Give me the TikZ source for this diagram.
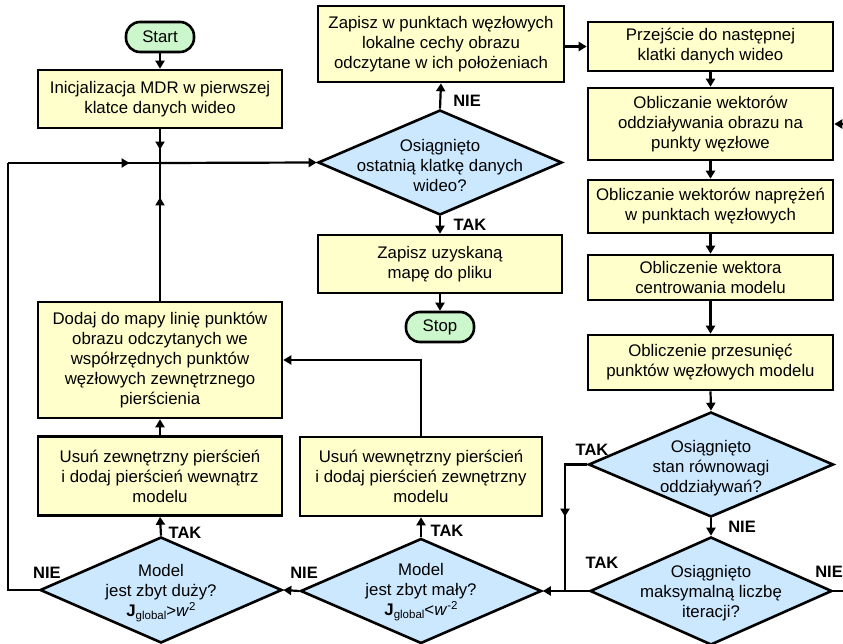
\documentclass[tikz,border=0pt]{standalone}
\usepackage{fontspec}
\setmainfont{Liberation Sans}
\usetikzlibrary{arrows.meta,decorations.markings,shapes.geometric}
\definecolor{yel}{HTML}{FFFFCC}
\definecolor{blu}{HTML}{CCE8FF}
\definecolor{grn}{HTML}{CCF7CC}
\newcommand\boxfont{\fontsize{16.8}{20}\selectfont}
\newcommand\labfont{\fontsize{16.5}{20}\selectfont\bfseries}
\newcommand\smallsub[1]{\raisebox{-0.35ex}{\fontsize{11.5}{12}\selectfont #1}}
\newcommand\smallsup[1]{\raisebox{0.65ex}{\fontsize{11.5}{12}\selectfont #1}}
\begin{document}
\begin{tikzpicture}[x=1pt,y=-1pt,
  box/.style={draw, line width=2.6pt, fill=yel, minimum width=244pt, inner sep=2pt, font=\boxfont, align=center},
  pill/.style={draw, line width=2.6pt, fill=grn, minimum width=68pt, minimum height=30pt, rounded corners=14pt, inner sep=0pt, font=\boxfont},
  dec/.style={draw, line width=2.6pt, fill=blu, shape=diamond, minimum width=244pt, minimum height=105pt, inner sep=0pt},
  dtext/.style={font=\boxfont, align=center, inner sep=0pt},
  lab/.style={font=\labfont, inner sep=0pt},
  conn/.style={line width=2.2pt},
  tip/.tip={Triangle[length=8pt,width=9pt]},
  arr/.style={conn, -tip},
  midarr/.style={postaction=decorate, decoration={markings, mark=at position #1 with {\arrow{Triangle[length=8pt,width=9pt]}}}}
]
\useasboundingbox (0,0) rectangle (843,644);
\fill[white] (0,0) rectangle (843,644);

% left column
\node[pill] (start) at (160,37) {Start};
\node[box, minimum height=58pt] (init) at (160,99) {Inicjalizacja MDR w pierwszej\\klatce danych wideo};
\node[box, minimum height=116pt] (dod) at (160,360) {Dodaj do mapy linię punktów\\obrazu odczytanych we\\współrzędnych punktów\\węzłowych zewnętrznego\\pierścienia};
\node[box, minimum height=79pt] (uz) at (160,476) {Usuń zewnętrzny pierścień\\i dodaj pierścień wewnątrz\\modelu};
\node[dec, minimum width=242pt, minimum height=106pt] (dd) at (161,590) {};
\node[dtext] (ddt) at (161,593) {Model\\jest zbyt duży?\\\textbf{J}\smallsub{global}>\textit{w}\smallsup{2}};

% middle column
\node[box, minimum width=246pt, minimum height=76pt] (zw) at (441,44) {Zapisz w punktach węzłowych\\lokalne cechy obrazu\\odczytane w ich położeniach};
\node[dec] (d1) at (440,162.5) {};
\node[dtext] (d1t) at (440,165) {Osiągnięto\\ostatnią klatkę danych\\wideo?};
\node[box, minimum height=58pt] (zu) at (440,264) {Zapisz uzyskaną\\mapę do pliku};
\node[pill] (stop) at (440,327) {Stop};
\node[box, minimum width=242pt, minimum height=79pt] (uw) at (421,476.5) {Usuń wewnętrzny pierścień\\i dodaj pierścień zewnętrzny\\modelu};
\node[dec, minimum width=241pt] (dm) at (421,591) {};
\node[dtext] (dmt) at (421,592) {Model\\jest zbyt mały?\\\textbf{J}\smallsub{global}<\textit{w}\smallsup{-2}};

% right column
\node[box, minimum width=245pt, minimum height=49pt] (prz) at (710.5,46.5) {Przejście do następnej\\klatki danych wideo};
\node[box, minimum width=245pt, minimum height=72pt] (odd) at (710.5,124) {Obliczanie wektorów\\oddziaływania obrazu na\\punkty węzłowe};
\node[box, minimum width=245pt, minimum height=53pt] (nap) at (710.5,206.5) {Obliczanie wektorów naprężeń\\w punktach węzłowych};
\node[box, minimum width=245pt, minimum height=45pt] (cen) at (710.5,277.5) {Obliczenie wektora\\centrowania modelu};
\node[box, minimum width=245pt, minimum height=55pt] (prs) at (710.5,362.5) {Obliczenie przesunięć\\punktów węzłowych modelu};
\node[dec, minimum width=245pt] (d3) at (711,464.5) {};
\node[dtext] (d3t) at (711,468) {Osiągnięto\\stan równowagi\\oddziaływań?};
\node[dec, minimum width=242pt, minimum height=108pt] (d4) at (711,591) {};
\node[dtext] (d4t) at (711,593) {Osiągnięto\\maksymalną liczbę\\iteracji?};

% labels
\node[lab] (l1) at (467,101) {NIE};
\node[lab] (l2) at (470,225) {TAK};
\node[lab] (l3) at (592,450) {TAK};
\node[lab] (l4) at (742,527) {NIE};
\node[lab] (l5) at (602,563) {TAK};
\node[lab] (l6) at (829,572) {NIE};
\node[lab] (l7) at (447,531) {TAK};
\node[lab] (l8) at (304,573) {NIE};
\node[lab] (l9) at (185,533) {TAK};
\node[lab] (l10) at (47,573) {NIE};

% coordinates
\coordinate (L1) at (8,163);
\coordinate (J) at (160,163);
\coordinate (R1) at (565,591);
\coordinate (R2) at (860,591);

% connectors
\draw[arr] (start.south) -- (init.north);
\draw[conn, midarr=0.6] (init.south) -- (J);
\draw[conn, midarr=0.75] (dod.north) -- (J);
\draw[conn] (dd.west) -| (L1);
\draw[conn, midarr=0.8] (L1) -- (J);
\draw[arr] (J) -- (d1.west);
\draw[arr] (d1.north) -- (zw.south);
\draw[arr] (d1.south) -- (zu.north);
\draw[arr] (zu.south) -- (stop.north);
\draw[arr] (zw.east |- prz.west) -- (prz.west);
\draw[arr] (prz.south) -- (odd.north);
\draw[arr] (odd.south) -- (nap.north);
\draw[arr] (nap.south) -- (cen.north);
\draw[arr] (cen.south) -- (prs.north);
\draw[arr] (prs.south) -- (d3.north);
\draw[arr] (d3.south) -- (d4.north);
\draw[conn, midarr=0.5] (d3.west) -| (R1);
\draw[arr] (d4.west) -- (dm.east);
\draw[arr] (d4.east) -- (R2) |- (odd.east);
\draw[arr] (dm.north) -- (uw.south);
\draw[arr] (uw.north) |- (dod.east);
\draw[arr] (dm.west) -- (dd.east);
\draw[arr] (dd.north) -- (uz.south);
\draw[arr] (uz.north) -- (dod.south);
\end{tikzpicture}
\end{document}
